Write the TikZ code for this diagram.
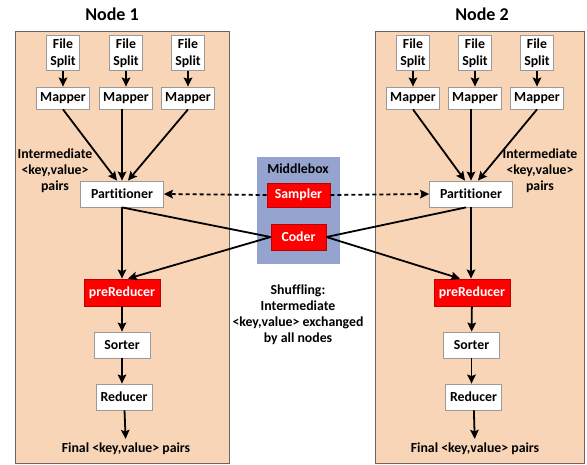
\documentclass[tikz,border=0pt]{standalone}
\usepackage{fontspec}
\setmainfont[Ligatures={NoCommon}]{Carlito}
\usepackage{xcolor}
\usepackage{tikz}
\usetikzlibrary{shapes,arrows,arrows.meta,positioning,calc}

\definecolor{peach}{HTML}{F8D5B7}
\definecolor{hostline}{HTML}{6D6460}
\definecolor{midblue}{HTML}{95A3CF}
\definecolor{boxline}{HTML}{9A9A9A}
\definecolor{darkred}{HTML}{C00000}

\begin{document}
\begin{tikzpicture}[
    x=1pt, y=-1pt,
    font=\fontsize{13.8}{16.5}\selectfont\bfseries,
    host/.style={rectangle, draw=hostline, line width=1pt, fill=peach},
    midbox/.style={rectangle, fill=midblue},
    title/.style={font=\fontsize{18}{20}\selectfont\bfseries},
    box/.style={rectangle, draw=boxline, line width=0.8pt, fill=white, inner xsep=3.5pt, inner ysep=3pt, minimum height=26pt, align=center},
    redbox/.style={box, draw=darkred, fill=red, text=white},
    note/.style={align=center, font=\fontsize{13.8}{16}\selectfont\bfseries},
    arrow/.style={-{Stealth[length=9pt, width=8.5pt, inset=1.5pt]}, line width=1.8pt},
    link/.style={line width=1.8pt},
    dashline/.style={-{Stealth[length=9pt, width=8.5pt, inset=1.5pt]}, line width=1.8pt, dash pattern=on 4pt off 3pt}
]
\useasboundingbox (0,0) rectangle (587,465);

\node[host, minimum width=214pt, minimum height=431pt] (host1) at (122,247.5) {};
\node[host, minimum width=209pt, minimum height=431pt] (host2) at (479.5,247.5) {};
\node[midbox, minimum width=83pt, minimum height=107pt] (mid) at (298.5,210.5) {};

\node[title] (title1) at (112,14) {Node 1};
\node[title] (title2) at (482,14) {Node 2};
\node (midlabel) at (298,169) {Middlebox};

\node[box, minimum height=35pt] (fs11) at (63,53) {File\\Split};
\node[box, minimum height=35pt] (fs12) at (126,53) {File\\Split};
\node[box, minimum height=35pt] (fs13) at (188,53) {File\\Split};
\node[box, minimum height=35pt] (fs21) at (413,53) {File\\Split};
\node[box, minimum height=35pt] (fs22) at (475,53) {File\\Split};
\node[box, minimum height=35pt] (fs23) at (537,53) {File\\Split};

\node[box, minimum height=22pt] (map11) at (63,98) {Mapper};
\node[box, minimum height=22pt] (map12) at (126,98) {Mapper};
\node[box, minimum height=22pt] (map13) at (188,98) {Mapper};
\node[box, minimum height=22pt] (map21) at (413,98) {Mapper};
\node[box, minimum height=22pt] (map22) at (475,98) {Mapper};
\node[box, minimum height=22pt] (map23) at (537,98) {Mapper};

\node[box, minimum width=83pt] (part1) at (122,194) {Partitioner};
\node[box, minimum width=83pt] (part2) at (471,194) {Partitioner};

\node[redbox, minimum width=63pt, minimum height=24pt] (samp) at (298.5,195) {Sampler};
\node[redbox, minimum width=55pt] (coder) at (298.5,237) {Coder};

\node[redbox, minimum width=76pt, minimum height=27pt] (pre1) at (122,292.5) {preReducer};
\node[redbox, minimum width=76pt, minimum height=27pt] (pre2) at (472,292.5) {preReducer};
\node[box, minimum width=56pt] (sort1) at (122,345) {Sorter};
\node[box, minimum width=56pt] (sort2) at (471.5,345) {Sorter};
\node[box, minimum width=56pt] (red1) at (124,397) {Reducer};
\node[box, minimum width=56pt] (red2) at (473.5,397) {Reducer};

\node[note, inner sep=4pt] (fin1) at (126,449) {Final <key,value> pairs};
\node[note, inner sep=4pt] (fin2) at (475,449) {Final <key,value> pairs};

\node[note] (inter1) at (55,171) {Intermediate\\<key,value>\\pairs};
\node[note] (inter2) at (540,171) {Intermediate\\<key,value>\\pairs};
\node[note] (shuffle) at (298,315) {Shuffling:\\Intermediate\\<key,value> exchanged\\by all nodes};

\draw[arrow] (fs11) -- (map11);
\draw[arrow] (fs12) -- (map12);
\draw[arrow] (fs13) -- (map13);
\draw[arrow] (fs21) -- (map21);
\draw[arrow] (fs22) -- (map22);
\draw[arrow] (fs23) -- (map23);

\draw[arrow] (map11.south) -- ([xshift=-5pt]part1.north);
\draw[arrow] (map12.south -| part1.north) -- (part1.north);
\draw[arrow] (map13.south) -- ([xshift=6pt]part1.north);
\draw[arrow] (map21.south) -- ([xshift=-6pt]part2.north);
\draw[arrow] (map22.south -| part2.north) -- (part2.north);
\draw[arrow] (map23.south) -- ([xshift=7pt]part2.north);

\draw[dashline] (samp.west) -- (part1.east);
\draw[dashline] (samp.east) -- (part2.west);

\draw[link] (part1.south) -- (coder.west);
\draw[arrow] (coder.west) -- ([xshift=6pt]pre1.north);
\draw[link] ([xshift=-5pt]part2.south) -- (coder.east);
\draw[arrow] (coder.east) -- ([xshift=-12pt]pre2.north);

\draw[arrow] (part1.south) -- (part1.south |- pre1.north);
\draw[arrow] (part2.south) -- (part2.south |- pre2.north);
\draw[arrow] (pre1) -- (sort1);
\draw[arrow] (pre2) -- (sort2);
\draw[arrow] (sort1) -- (sort1 |- red1.north);
\draw[arrow] (sort2) -- (sort2 |- red2.north);
\draw[arrow] (red1) -- (fin1);
\draw[arrow] (red2) -- (fin2);

\end{tikzpicture}
\end{document}
